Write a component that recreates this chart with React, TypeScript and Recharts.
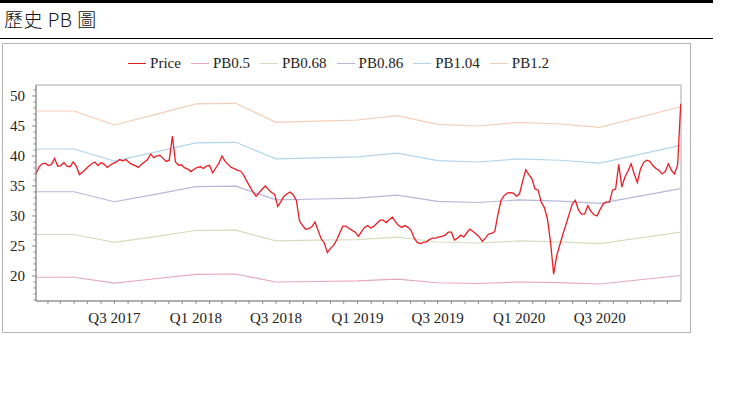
import { Line, LineChart, ReferenceArea, XAxis, YAxis } from "recharts";

const SERIF = '"Liberation Serif", "Times New Roman", serif';
const AXIS = "#8a8a8a";
const FRAME = "#a8a8a8";

// closing price, one reading per week starting 2017-01-05
const priceStart = "2017-01-05";
const priceStepDays = 7;
const priceValues = [
  37.0, 38.2, 38.7, 38.8, 38.4, 38.6, 39.6, 38.3, 38.4, 38.9,
  38.3, 38.2, 39.0, 38.3, 36.9, 37.3, 37.8, 38.3, 38.7, 39.0,
  38.4, 38.9, 38.6, 38.1, 38.5, 38.8, 39.0, 39.4, 39.2, 39.4,
  38.9, 38.6, 38.4, 38.1, 38.6, 39.0, 39.4, 40.3, 39.7, 40.0,
  40.1, 39.6, 39.1, 39.3, 43.3, 39.0, 38.5, 38.5, 38.0, 37.8,
  37.4, 37.8, 38.1, 38.2, 37.9, 38.3, 38.4, 37.2, 38.0, 38.8,
  40.0, 39.1, 38.6, 38.1, 37.9, 37.6, 37.5, 36.8, 35.8, 34.9,
  34.0, 33.3, 33.9, 34.5, 35.0, 34.4, 33.9, 33.6, 31.6, 32.4,
  33.3, 33.7, 34.0, 33.5, 32.6, 29.2, 28.4, 27.8, 27.9, 28.2,
  29.0, 27.6, 26.2, 25.5, 23.9, 24.6, 25.1, 26.0, 27.2, 28.3,
  28.3, 27.9, 27.6, 27.3, 26.6, 27.4, 28.1, 28.4, 28.0, 28.3,
  28.8, 29.3, 29.3, 28.9, 29.4, 29.8, 29.0, 28.4, 28.1, 28.4,
  28.1, 27.6, 26.3, 25.6, 25.4, 25.6, 25.7, 26.1, 26.3, 26.3,
  26.5, 26.6, 26.8, 27.3, 27.3, 26.0, 26.3, 26.8, 26.5, 27.2,
  27.8, 27.4, 27.0, 26.5, 25.8, 26.3, 27.0, 27.1, 27.4, 30.2,
  32.6, 33.4, 33.8, 33.9, 33.8, 33.3, 33.7, 35.8, 37.7, 36.9,
  36.2, 34.5, 34.3, 32.3, 31.4, 29.5, 25.6, 20.3, 23.4, 25.2,
  27.0, 28.6, 30.3, 32.0, 32.6, 31.0, 30.3, 30.3, 31.7, 30.8,
  30.2, 30.0, 31.1, 32.0, 32.3, 32.3, 34.3, 34.5, 38.6, 34.8,
  36.5, 37.5, 38.7, 37.0, 35.6, 37.8, 38.9, 39.3, 39.1, 38.4,
  37.9, 37.6, 37.0, 37.4, 38.7, 37.6, 37.0, 38.5, 48.7,
];

// PB band anchors (quarterly book value updates)
const bandDates = [
  "2017-01-05", "2017-04-01", "2017-07-01", "2017-10-01",
  "2018-01-01", "2018-04-01", "2018-07-01", "2018-10-01",
  "2019-01-01", "2019-04-01", "2019-07-01", "2019-10-01",
  "2020-01-01", "2020-04-01", "2020-07-01", "2020-12-31",
];
const pb05 = [19.79, 19.79, 18.82, 19.54, 20.28, 20.33, 19.0, 19.08, 19.17, 19.47, 18.87, 18.75, 19.0, 18.89, 18.66, 20.08];
const pb068 = [26.91, 26.91, 25.6, 26.57, 27.58, 27.64, 25.84, 25.96, 26.06, 26.47, 25.66, 25.5, 25.84, 25.69, 25.38, 27.32];
const pb086 = [34.04, 34.04, 32.37, 33.61, 34.88, 34.96, 32.68, 32.83, 32.96, 33.48, 32.45, 32.25, 32.68, 32.49, 32.1, 34.55];
const pb104 = [41.16, 41.16, 39.15, 40.64, 42.18, 42.28, 39.52, 39.7, 39.86, 40.49, 39.24, 39.0, 39.52, 39.29, 38.81, 41.78];
const pb12 = [47.5, 47.5, 45.17, 46.9, 48.67, 48.78, 45.6, 45.8, 46.0, 46.72, 45.28, 45.0, 45.6, 45.33, 44.78, 48.2];

const priceColor = "#ec1c24";
const bands = [
  { name: "PB0.5", color: "#e6a9bb", values: pb05 },
  { name: "PB0.68", color: "#d8dcbd", values: pb068 },
  { name: "PB0.86", color: "#b7b6dc", values: pb086 },
  { name: "PB1.04", color: "#b2d5ec", values: pb104 },
  { name: "PB1.2", color: "#f6cdb6", values: pb12 },
];

const DAY = 86400000;
const EPOCH = Date.UTC(2017, 0, 1);
const toDay = (s: string) => {
  const [y, m, d] = s.split("-").map(Number);
  return (Date.UTC(y, m - 1, d) - EPOCH) / DAY;
};
const fromDay = (n: number) => new Date(EPOCH + n * DAY);

const X_DOMAIN: [number, number] = [4, 1460.6];
const Y_DOMAIN: [number, number] = [15.83, 51.83];

const priceData = priceValues.map((v, i) => ({ d: toDay(priceStart) + i * priceStepDays, price: v }));
const bandData = bands.map((b) => ({
  ...b,
  data: bandDates.map((dt, k) => ({ d: toDay(dt), v: b.values[k] })),
}));

const monthTicks: number[] = [];
for (let y = 2017; y <= 2020; y++) {
  for (let m = 0; m < 12; m++) {
    const d = (Date.UTC(y, m, 1) - EPOCH) / DAY;
    if (d >= X_DOMAIN[0] && d <= X_DOMAIN[1]) monthTicks.push(d);
  }
}
const yTicks: number[] = [];
for (let v = 16; v <= 51; v++) yTicks.push(v);

function XTick({ x, y, payload }: any) {
  const dt = fromDay(payload.value);
  const m = dt.getUTCMonth();
  const label = m === 0 ? `Q1 ${dt.getUTCFullYear()}` : m === 6 ? `Q3 ${dt.getUTCFullYear()}` : "";
  return (
    <g>
      <line x1={x} y1={y} x2={x} y2={y + 3} stroke={AXIS} />
      {label && (
        <text x={x} y={y + 22} textAnchor="middle" fontFamily={SERIF} fontSize={15} fill="#222">
          {label}
        </text>
      )}
    </g>
  );
}

function YTick({ x, y, payload }: any) {
  const v = payload.value;
  const major = v % 5 === 0;
  return (
    <g>
      <line x1={x - (major ? 4 : 2.5)} y1={y} x2={x} y2={y} stroke={AXIS} />
      {major && (
        <text x={x - 11} y={y + 5} textAnchor="end" fontFamily={SERIF} fontSize={15} fill="#222">
          {v}
        </text>
      )}
    </g>
  );
}

function LegendItem({ name, color }: { name: string; color: string }) {
  return (
    <span style={{ display: "inline-flex", alignItems: "center", marginRight: 10 }}>
      <span style={{ display: "inline-block", width: 18, borderTop: `1.5px solid ${color}`, marginRight: 4 }} />
      <span>{name}</span>
    </span>
  );
}

export default function App() {
  return (
    <div style={{ position: "absolute", left: 0, top: 0, width: 744, height: 397, background: "#fff" }}>
      <div style={{ position: "absolute", left: 0, top: 0, width: 713, height: 3, background: "#000" }} />
      <div
        style={{
          position: "absolute",
          left: 4,
          top: 9,
          fontFamily: '"Noto Sans CJK TC", "Noto Sans", sans-serif',
          fontWeight: 300,
          fontSize: 19,
          lineHeight: "19px",
          color: "#111",
          letterSpacing: 0.5,
        }}
      >
        歷史 PB 圖
      </div>
      <div style={{ position: "absolute", left: 0, top: 38, width: 713, height: 1, background: "#000" }} />
      <div
        style={{
          position: "absolute",
          left: 2,
          top: 43,
          width: 689,
          height: 290,
          border: "1px solid #b4b4b4",
          boxSizing: "border-box",
        }}
      />
      <div
        style={{
          position: "absolute",
          left: 2,
          top: 55,
          width: 683,
          display: "flex",
          justifyContent: "center",
          fontFamily: SERIF,
          fontSize: 15,
          lineHeight: "17px",
          color: "#222",
        }}
      >
        <LegendItem name="Price" color={priceColor} />
        {bands.map((b) => (
          <LegendItem key={b.name} name={b.name} color={b.color} />
        ))}
      </div>
      <div style={{ position: "absolute", left: 0, top: 0 }}>
        <LineChart width={744} height={397} data={priceData} margin={{ top: 85, right: 63, bottom: 66, left: 6 }}>
          <ReferenceArea
            x1={X_DOMAIN[0]}
            x2={X_DOMAIN[1]}
            y1={Y_DOMAIN[0]}
            y2={Y_DOMAIN[1]}
            fill="none"
            stroke={FRAME}
            ifOverflow="visible"
          />
          <XAxis
            dataKey="d"
            type="number"
            domain={X_DOMAIN}
            allowDataOverflow
            ticks={monthTicks}
            interval={0}
            tickSize={0}
            tickMargin={0}
            tick={<XTick />}
            height={30}
            stroke={AXIS}
          />
          <YAxis
            type="number"
            domain={Y_DOMAIN}
            allowDataOverflow
            ticks={yTicks}
            interval={0}
            tickSize={0}
            tickMargin={0}
            tick={<YTick />}
            width={30}
            stroke={AXIS}
          />
          {bandData.map((b) => (
            <Line
              key={b.name}
              data={b.data}
              dataKey="v"
              name={b.name}
              stroke={b.color}
              strokeWidth={1.2}
              dot={false}
              activeDot={false}
              isAnimationActive={false}
            />
          ))}
          <Line
            dataKey="price"
            name="Price"
            stroke={priceColor}
            strokeWidth={1.3}
            dot={false}
            activeDot={false}
            isAnimationActive={false}
          />
        </LineChart>
      </div>
    </div>
  );
}
